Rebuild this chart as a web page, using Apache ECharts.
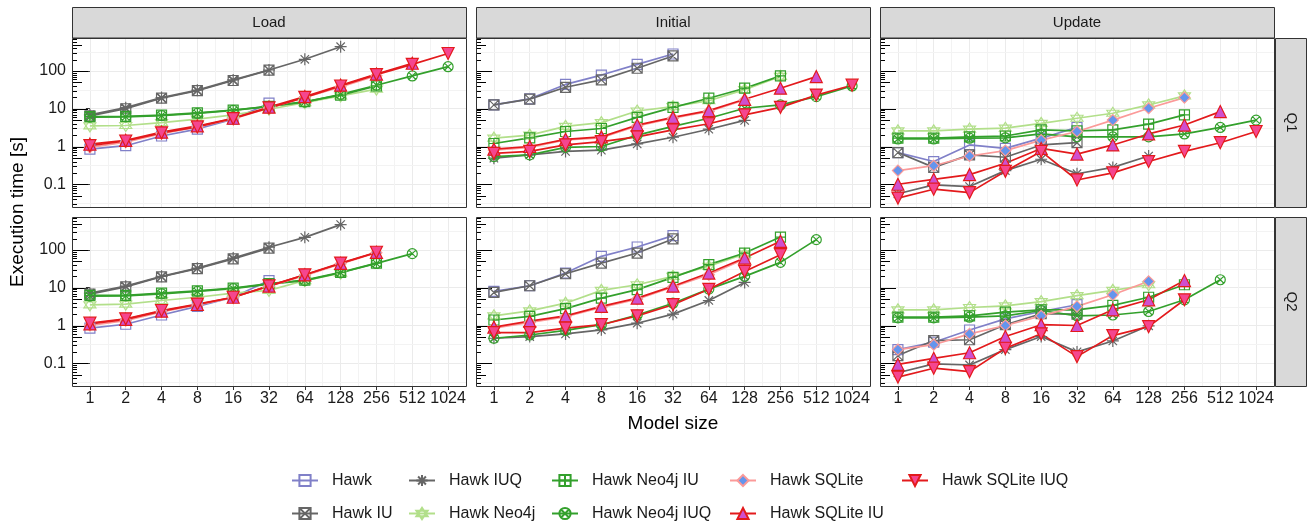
<!DOCTYPE html>
<html>
<head>
<meta charset="utf-8">
<script src="https://cdn.jsdelivr.net/npm/echarts@6/dist/echarts.min.js"></script>
<style>
  html, body { margin: 0; padding: 0; background: #fff; }
  #main { width: 1309px; height: 528px; }
</style>
</head>
<body>
<div id="main"></div>
<script>
// model sizes on the x axis
const sizes = ['1', '2', '4', '8', '16', '32', '64', '128', '256', '512', '1024'];
const columns = ['Load', 'Initial', 'Update'];
const rows = ['Q1', 'Q2'];
const yTicks = [0.1, 1, 10, 100];
const seriesNames = ['Hawk', 'Hawk IU', 'Hawk IUQ', 'Hawk Neo4j', 'Hawk Neo4j IU',
  'Hawk Neo4j IUQ', 'Hawk SQLite', 'Hawk SQLite IU', 'Hawk SQLite IUQ'];

const _ = null;
// one row per series (same order as seriesNames), one value per model size, seconds
const loadQ1 = [
  [0.85, 1.05, 1.9, 2.9, 5.3, 14],
  [6.5, 10, 19, 30, 56, 105],
  [6.9, 10.7, 19.7, 31, 58, 106, 204, 440],
  [3.5, 3.6, 4.3, 5.3, 6.9, 9.7, 14.5, 22, 33],
  [6.2, 6.3, 6.8, 7.8, 9.2, 11.5, 15.5, 23, 40],
  [6.0, 6.1, 6.6, 7.5, 9.0, 11.5, 15, 24, 42, 74, 130],
  [0.95, 1.3, 2.2, 3.3, 5.4, 10.5, 20, 38, 75],
  [1.15, 1.45, 2.4, 3.5, 5.6, 11, 21, 42, 83, 160],
  [1.05, 1.4, 2.3, 3.3, 5.5, 10.5, 20, 40, 80, 150, 290]
];
const initialQ1 = [
  [12.6, 18.3, 44, 78, 150, 282],
  [12.6, 18, 37, 58, 118, 250],
  [0.49, 0.6, 0.74, 0.8, 1.17, 1.76, 2.87, 4.9],
  [1.66, 2.0, 3.4, 4.3, 8.7, 11.4, 16.3, 32, 72],
  [1.2, 1.7, 2.5, 3.0, 5.9, 10.9, 19, 35, 74],
  [0.54, 0.6, 0.95, 1.0, 2.0, 3.4, 5.6, 10.3, 12.6, 21, 40],
  [0.8, 0.95, 1.5, 1.7, 3.5, 5.6, 8.5, 17],
  [0.85, 1.0, 1.55, 1.8, 3.7, 5.9, 8.9, 17.8, 35, 71],
  [0.66, 0.74, 1.1, 1.35, 1.8, 2.75, 4, 6.9, 10.9, 23, 42]
];
const updateQ1 = [
  [0.69, 0.4, 1.1, 0.89, 1.66, 3.2],
  [0.69, 0.28, 0.6, 0.52, 1.1, 1.26],
  [0.056, 0.096, 0.087, 0.23, 0.46, 0.19, 0.28, 0.56],
  [2.6, 2.6, 2.9, 3.05, 4.1, 5.6, 7.6, 12.6, 22],
  [1.66, 1.66, 1.8, 1.9, 2.75, 2.6, 2.75, 3.9, 6.9],
  [1.58, 1.58, 1.66, 1.7, 2.15, 1.8, 1.8, 1.8, 2.15, 3.2, 5],
  [0.23, 0.31, 0.56, 0.78, 1.48, 2.5, 5, 10.3, 19.7],
  [0.1, 0.135, 0.18, 0.36, 0.89, 0.63, 1.1, 2.15, 3.7, 8.4],
  [0.043, 0.074, 0.06, 0.22, 0.74, 0.13, 0.2, 0.4, 0.74, 1.26, 2.5]
];
const loadQ2 = [
  [0.85, 1.08, 1.9, 3.2, 5.6, 15.5],
  [6.8, 10.5, 19.5, 32, 58, 112],
  [7.2, 11, 20, 33, 61, 118, 216, 470],
  [3.5, 3.7, 4.6, 5.6, 7.2, 8.5, 15.5, 24.5],
  [6.3, 6.3, 7.2, 8.3, 9.8, 12.8, 16, 25.5, 45],
  [6.0, 6.1, 6.9, 8.0, 9.5, 12.5, 15.5, 25, 44, 80],
  [1.0, 1.35, 2.3, 3.5, 5.5, 11, 21, 43, 85],
  [1.1, 1.45, 2.4, 3.6, 5.6, 11, 22, 44, 86],
  [1.15, 1.5, 2.5, 3.7, 5.6, 11.2, 22, 45, 87]
];
const initialQ2 = [
  [8, 11.3, 24.5, 68, 120, 240],
  [7.5, 11.3, 23.5, 45, 83, 196],
  [0.46, 0.51, 0.6, 0.77, 1.15, 2.0, 4.6, 13.8],
  [1.8, 2.45, 3.9, 8.5, 12, 20, 37, 78],
  [1.4, 1.75, 2.8, 5.3, 8.9, 18.8, 41, 83, 220],
  [0.46, 0.56, 0.74, 1.05, 1.9, 3.9, 9.2, 20, 47, 188],
  [0.85, 1.2, 1.7, 3.0, 5.0, 10.5, 22, 58],
  [0.91, 1.3, 1.8, 3.2, 5.3, 11, 24.5, 61, 170],
  [0.65, 0.65, 0.85, 1.05, 1.8, 3.55, 9.1, 27, 75]
];
const updateQ2 = [
  [0.23, 0.36, 0.76, 1.5, 2.35, 3.55],
  [0.16, 0.4, 0.42, 1.05, 2.05, 2.0],
  [0.056, 0.096, 0.09, 0.23, 0.51, 0.2, 0.39, 0.98],
  [2.6, 2.6, 3.0, 3.3, 4.3, 6.2, 8.5, 12],
  [1.66, 1.66, 1.8, 2.25, 2.6, 2.6, 3.4, 5.6, 12],
  [1.6, 1.6, 1.66, 1.8, 2.5, 1.8, 1.9, 2.35, 4.8, 16.3],
  [0.23, 0.31, 0.6, 1.0, 1.8, 3.2, 6.5, 14.8],
  [0.093, 0.135, 0.19, 0.51, 1.05, 1.0, 2.6, 4.8, 15.5],
  [0.043, 0.074, 0.06, 0.25, 0.6, 0.15, 0.54, 0.93, 4.8]
];
const panels = [[loadQ1, initialQ1, updateQ1], [loadQ2, initialQ2, updateQ2]];

// marker shapes (ggplot-like)
const SQX = 'path://M0,0H10V10H0Z M0,0L10,10 M10,0L0,10';
const AST = 'path://M5,0V10 M0,5H10 M1.5,1.5L8.5,8.5 M8.5,1.5L1.5,8.5';
const STAR = 'path://M5,0L9.33,7.5L0.67,7.5Z M5,10L0.67,2.5L9.33,2.5Z';
const SQP = 'path://M0,0H10V10H0Z M5,0V10 M0,5H10';
const CIRX = 'path://M0,5A5,5,0,1,1,10,5A5,5,0,1,1,0,5Z M1.46,1.46L8.54,8.54 M8.54,1.46L1.46,8.54';
const NOFILL = 'rgba(0,0,0,0)';
const looks = [
  { line: '#8080C8', symbol: 'rect', size: 10, fill: NOFILL },
  { line: '#666666', symbol: SQX, size: 10, fill: NOFILL },
  { line: '#666666', symbol: AST, size: 12, fill: NOFILL },
  { line: '#B2DF8A', symbol: STAR, size: 12, fill: NOFILL },
  { line: '#33A02C', symbol: SQP, size: 10, fill: NOFILL },
  { line: '#33A02C', symbol: CIRX, size: 10, fill: NOFILL },
  { line: '#FB9A99', symbol: 'diamond', size: 11, fill: '#6495ED' },
  { line: '#E31A1C', symbol: 'triangle', size: 12, fill: '#CF4FCF' },
  { line: '#E31A1C', symbol: 'triangle', size: 12, fill: '#F5468F', rotate: 180 }
];

const colLeft = [72, 476, 880], rowTop = [38, 217];
const pw = 394, ph = 169, yMin = 0.025, yMax = 747;
const txt = '#1A1A1A';

const grids = [], xAxes = [], yAxes = [], series = [], graphics = [];

rows.forEach((r, ri) => {
  columns.forEach((c, ci) => {
    const g = grids.length;
    grids.push({ left: colLeft[ci], top: rowTop[ri], width: pw, height: ph, show: true,
      backgroundColor: '#fff', borderWidth: 0 });
    // category axis carrying the data, labels and ticks
    xAxes.push({
      type: 'category', gridIndex: g, data: sizes, boundaryGap: true,
      axisLine: { show: false },
      axisTick: { show: ri === 1, alignWithLabel: true, length: 4, lineStyle: { color: '#333' } },
      axisLabel: { show: ri === 1, fontSize: 16, color: txt, margin: 5, interval: 0 },
      splitLine: { show: false }
    });
    // value axis only for the major/minor vertical grid lines
    xAxes.push({
      type: 'value', gridIndex: g, min: -0.5, max: 10.5, interval: 0.5,
      axisLine: { show: false }, axisTick: { show: false }, axisLabel: { show: false },
      splitLine: { show: true, lineStyle: { color: ['#F3F3F3', '#EBEBEB'], width: 1 } }
    });
    yAxes.push({
      type: 'log', gridIndex: g, min: yMin, max: yMax,
      axisLine: { show: false },
      axisTick: { show: ci === 0, length: 4, lineStyle: { color: '#333' }, customValues: yTicks },
      axisLabel: { show: ci === 0, fontSize: 16, color: txt, margin: 6, customValues: yTicks,
        formatter: v => { const l = Math.log10(v); return Math.abs(l - Math.round(l)) < 1e-6 ? String(v) : ''; } },
      splitLine: { show: true, lineStyle: { color: '#EBEBEB', width: 1 } }
    });

    // minor horizontal grid and log ticks on the left edge
    series.push({
      type: 'custom', xAxisIndex: 2 * g + 1, yAxisIndex: g, data: [[0, 1]], silent: true, z: 1,
      renderItem: (params, api) => {
        const cs = params.coordSys;
        const kids = [];
        for (let e = -2; e <= 2; e++) {
          const mv = Math.pow(10, e + 0.5);
          if (mv > yMin && mv < yMax) {
            const y = Math.round(api.coord([0, mv])[1]) + 0.5;
            kids.push({ type: 'line', shape: { x1: cs.x, y1: y, x2: cs.x + cs.width, y2: y },
              style: { stroke: '#F3F3F3', lineWidth: 1 } });
          }
          for (let m = 1; m <= 9; m++) {
            const v = m * Math.pow(10, e);
            if (v < yMin || v > yMax) continue;
            const y = Math.round(api.coord([0, v])[1]) + 0.5;
            const len = m === 1 ? 16 : (m === 5 ? 10 : 5);
            kids.push({ type: 'line', shape: { x1: cs.x, y1: y, x2: cs.x + len, y2: y },
              style: { stroke: '#000', lineWidth: 1 } });
          }
        }
        return { type: 'group', children: kids };
      }
    });

    const data = panels[ri][ci];
    seriesNames.forEach((name, si) => {
      const lk = looks[si];
      const vals = sizes.map((s, k) => (data[si][k] === undefined ? _ : data[si][k]));
      series.push({
        type: 'line', name, xAxisIndex: 2 * g, yAxisIndex: g, data: vals,
        symbol: lk.symbol, symbolSize: lk.size, symbolRotate: lk.rotate || 0,
        showAllSymbol: true, connectNulls: false,
        lineStyle: { color: lk.line, width: 1.7 },
        itemStyle: { color: lk.fill, borderColor: lk.line, borderWidth: 1.2 },
        emphasis: { disabled: true }
      });
    });

    // panel border on top
    graphics.push({ type: 'rect', z: 100, silent: true,
      shape: { x: colLeft[ci] + 0.5, y: rowTop[ri] + 0.5, width: pw, height: ph },
      style: { fill: 'none', stroke: '#333', lineWidth: 1 } });
  });
});

// strips
columns.forEach((c, ci) => {
  graphics.push({ type: 'rect', z: 100, silent: true,
    shape: { x: colLeft[ci] + 0.5, y: 7.5, width: pw, height: 30.5 },
    style: { fill: '#D9D9D9', stroke: '#333', lineWidth: 1 } });
  graphics.push({ type: 'text', z: 101, silent: true, x: colLeft[ci] + pw / 2, y: 23,
    style: { text: c, fontSize: 15, fill: txt, align: 'center', verticalAlign: 'middle',
      fontFamily: 'Liberation Sans' } });
});
rows.forEach((r, ri) => {
  graphics.push({ type: 'rect', z: 100, silent: true,
    shape: { x: 1275.5, y: rowTop[ri] + 0.5, width: 31, height: ph },
    style: { fill: '#D9D9D9', stroke: '#333', lineWidth: 1 } });
  graphics.push({ type: 'text', z: 101, silent: true, x: 1291, y: rowTop[ri] + ph / 2,
    rotation: -Math.PI / 2,
    style: { text: r, fontSize: 15, fill: txt, align: 'center', verticalAlign: 'middle',
      fontFamily: 'Liberation Sans' } });
});
// axis titles
graphics.push({ type: 'text', silent: true, x: 18, y: 212, rotation: Math.PI / 2,
  style: { text: 'Execution time [s]', fontSize: 19, fill: '#000', align: 'center',
    verticalAlign: 'middle', fontFamily: 'Liberation Sans' } });
graphics.push({ type: 'text', silent: true, x: 673, y: 424,
  style: { text: 'Model size', fontSize: 19, fill: '#000', align: 'center',
    verticalAlign: 'middle', fontFamily: 'Liberation Sans' } });

// legend laid out column-wise like ggplot
const legendCols = [[0, 1], [2, 3], [4, 5], [6, 7], [8]];
const legendLeft = [291, 408, 551, 729, 901];
const legends = legendCols.map((idx, k) => ({
  orient: 'vertical', left: legendLeft[k], top: 472, itemGap: 16, height: 56,
  itemWidth: 26, itemHeight: 14, selectedMode: false, padding: 0,
  data: idx.map(i => seriesNames[i]),
  textStyle: { fontSize: 16, lineHeight: 17, color: txt, fontFamily: 'Liberation Sans',
    padding: [0, 0, 0, 9] }
}));

const chart = echarts.init(document.getElementById('main'), null, { renderer: 'canvas' });
chart.setOption({
  animation: false,
  backgroundColor: '#fff',
  textStyle: { fontFamily: 'Liberation Sans' },
  grid: grids,
  xAxis: xAxes,
  yAxis: yAxes,
  legend: legends,
  series: series,
  graphic: { elements: graphics }
});
</script>
</body>
</html>
